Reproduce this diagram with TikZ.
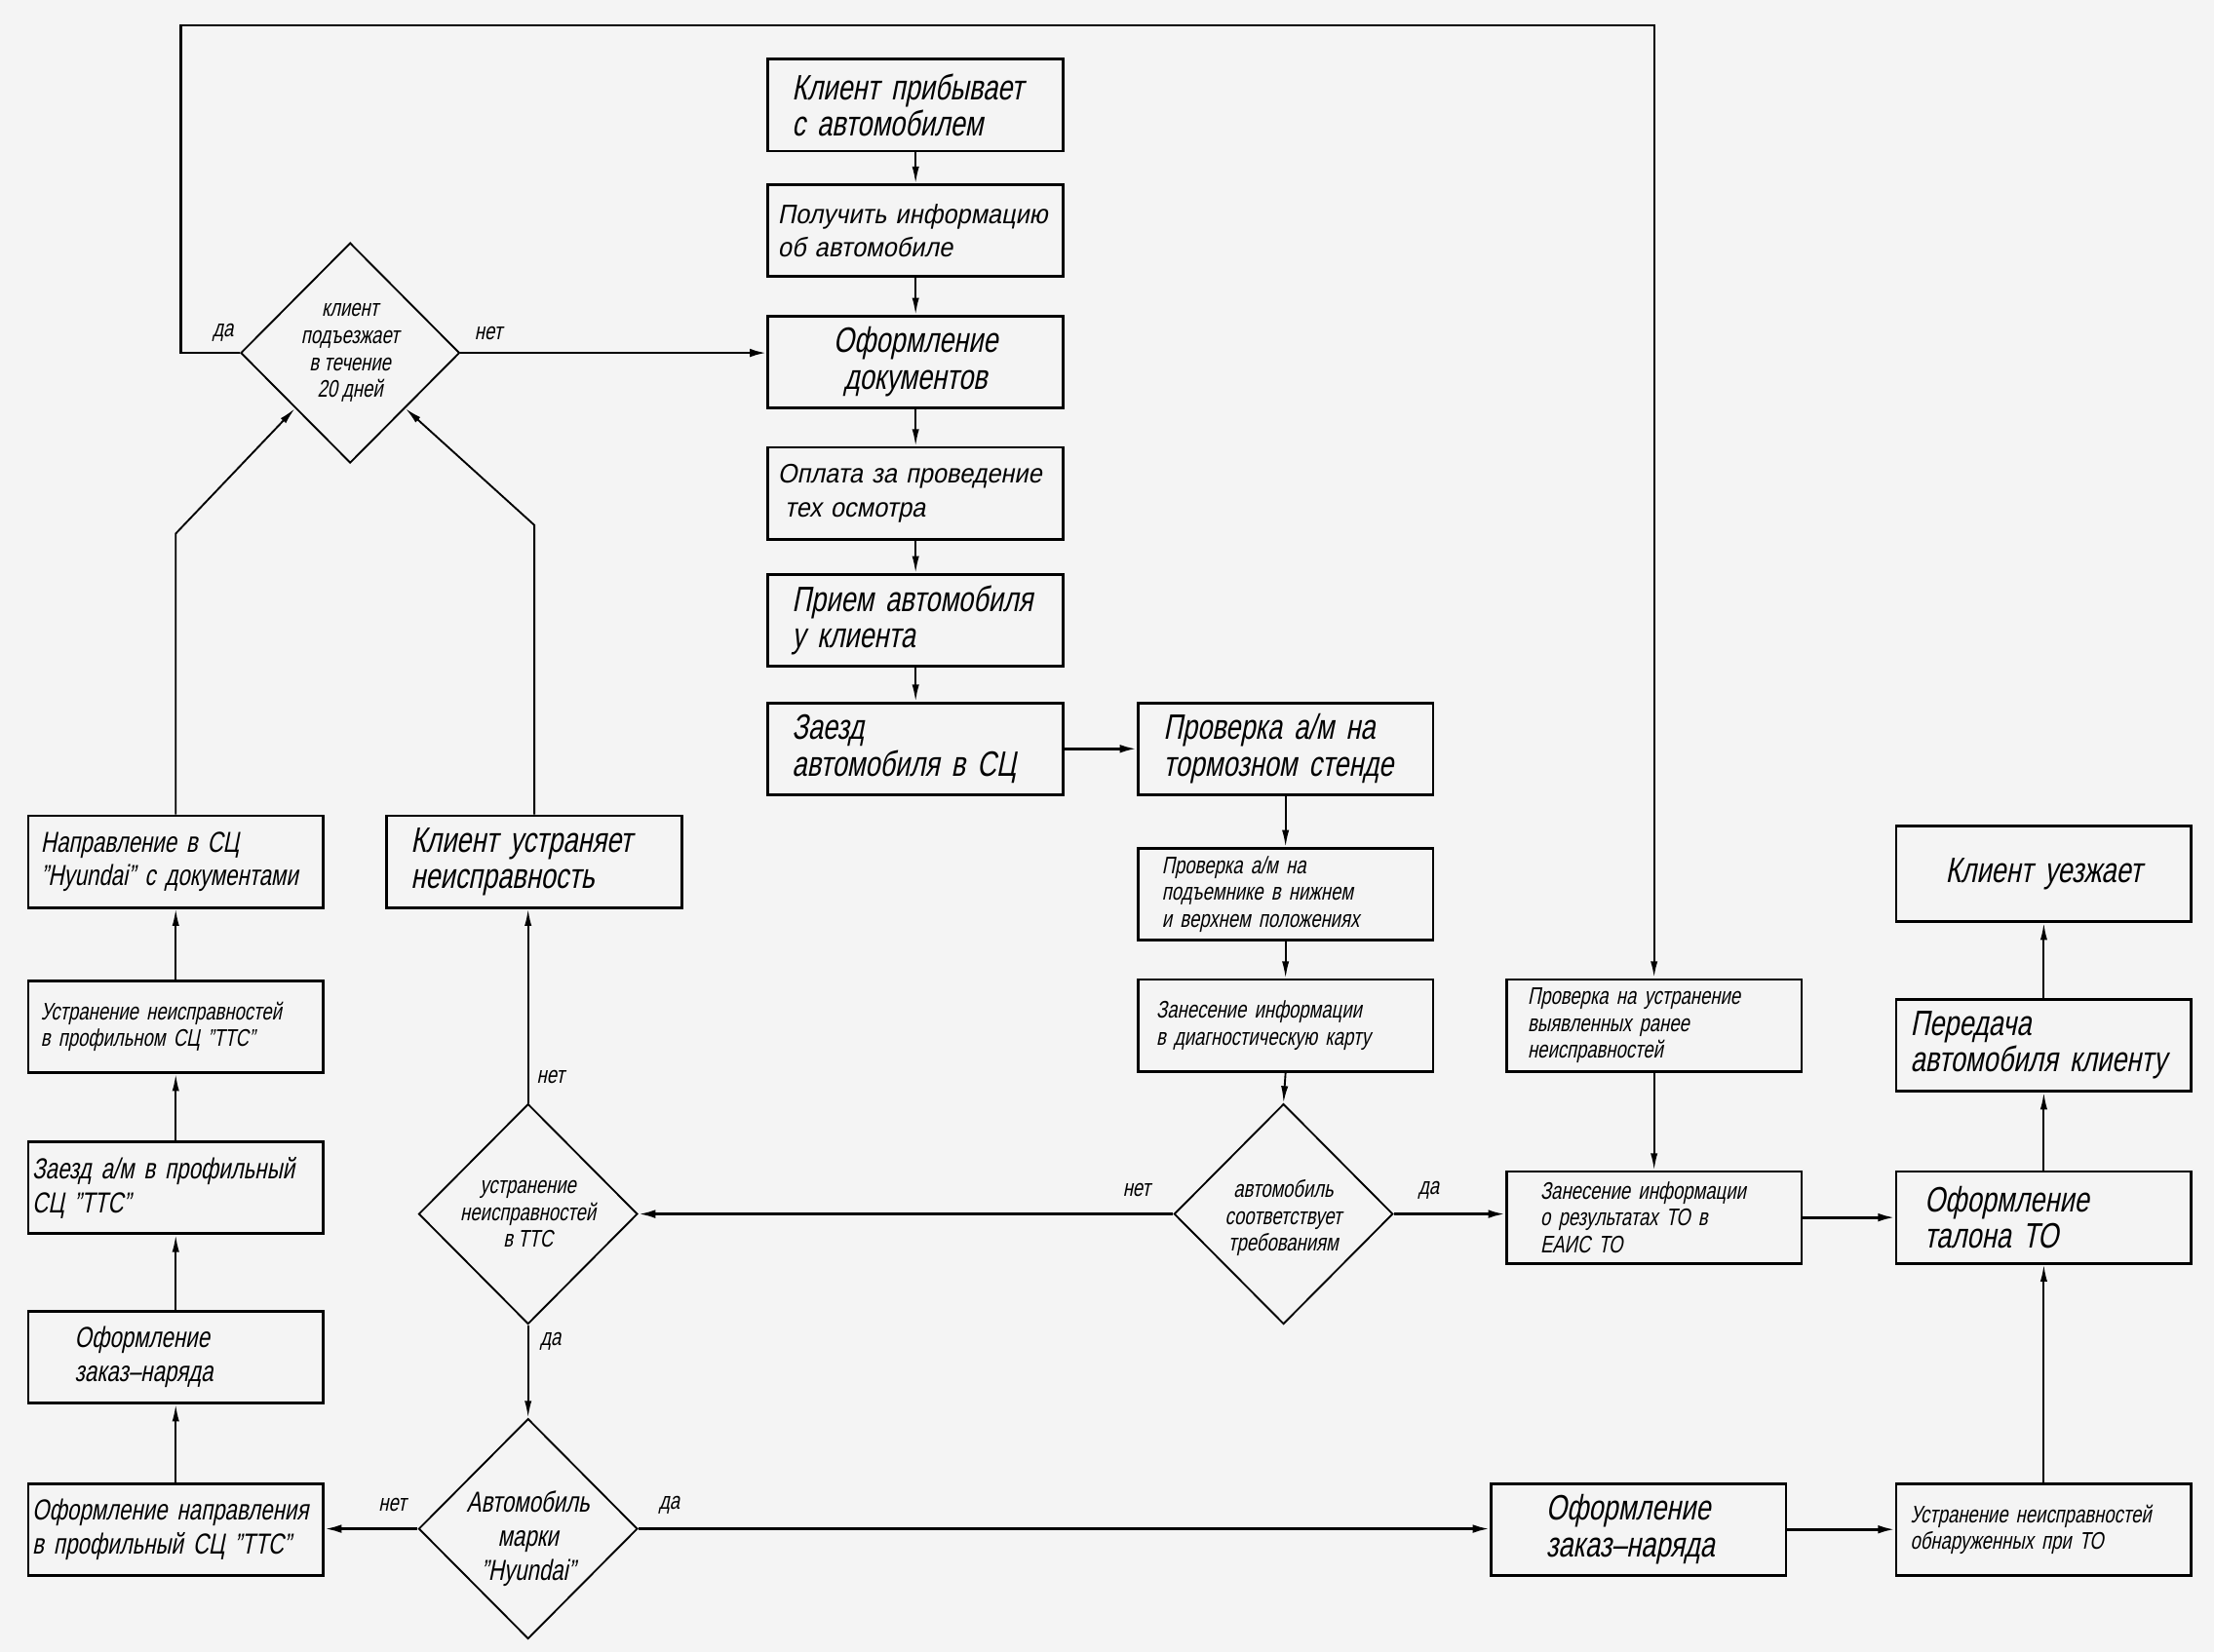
\documentclass[tikz,border=0pt]{standalone}
\usepackage{fontspec}
\setmainfont{Liberation Sans}[FakeSlant=0.2,FakeStretch=0.75]
\newfontfamily\wideg{Liberation Sans}[FakeSlant=0.2,FakeStretch=0.92]
\usetikzlibrary{shapes.geometric,arrows.meta,calc}
\definecolor{bgc}{HTML}{F4F4F4}
\newcommand\ML[1]{\mbox{#1}}
\newcommand\FBig{\fontsize{25}{26}\selectfont}
\newcommand\FMid{\fontsize{20.5}{24}\selectfont}
\newcommand\FSm{\fontsize{17}{19}\selectfont}
\newcommand\FWide{\wideg\fontsize{19}{24}\selectfont}
\begin{document}
\begin{tikzpicture}[x=1pt,y=-1pt,
  box/.style={draw, line width=1.9pt, rectangle, minimum width=209pt, minimum height=65pt,
    inner ysep=0pt, anchor=north west, align=left},
  dia/.style={draw, diamond, aspect=1, line width=1.3pt, minimum width=155pt,
    minimum height=156pt, inner sep=0pt},
  arr/.style={line width=1.3pt, -{Latex[length=12pt,width=5pt]}},
  arrT/.style={line width=1.9pt, -{Latex[length=12pt,width=6pt]}},
  lbl/.style={font=\FSm, inner sep=0pt},
  dtext/.style={align=center, inner sep=0pt}]
\fill[bgc] (0,0) rectangle (1568,1170);
% central column
\node[box, inner xsep=17pt, text width=175pt, font=\FBig] (b1) at (543,41) {\ML{Клиент прибывает}\\\ML{с автомобилем}};
\node[box, inner xsep=7pt, text width=195pt, font=\FWide] (b2) at (543,130) {\ML{Получить информацию}\\\ML{об автомобиле}};
\node[box, inner xsep=5pt, text width=199pt, align=center, font=\FBig] (b3) at (543,223) {Оформление\\документов};
\node[box, inner xsep=7pt, text width=195pt, font=\FWide] (b4) at (543,316) {\ML{Оплата за проведение}\\\ML{\hspace*{5pt}тех осмотра}};
\node[box, inner xsep=17pt, text width=175pt, font=\FBig] (b5) at (543,406) {\ML{Прием автомобиля}\\\ML{у клиента}};
\node[box, inner xsep=17pt, text width=175pt, font=\FBig] (b6) at (543,497) {\ML{Заезд}\\\ML{автомобиля в СЦ}};
\node[box, inner xsep=18pt, text width=173pt, font=\FBig] (b7) at (805,497) {\ML{Проверка а/м на}\\\ML{тормозном стенде}};
\node[box, inner xsep=17pt, text width=175pt, font=\FSm] (b8) at (805,600) {\ML{Проверка а/м на}\\\ML{подъемнике в нижнем}\\\ML{и верхнем положениях}};
\node[box, inner xsep=13pt, text width=183pt, font=\FSm] (b9) at (805,693) {\ML{Занесение информации}\\\ML{в диагностическую карту}};
\node[box, inner xsep=15pt, text width=179pt, font=\FSm] (b11) at (1066,693) {\ML{Проверка на устранение}\\\ML{выявленных ранее}\\\ML{неисправностей}};
\node[box, inner xsep=24pt, text width=161pt, font=\FSm] (b12) at (1066,829) {\ML{Занесение информации}\\\ML{о результатах ТО в}\\\ML{ЕАИС ТО}};
\node[box, inner xsep=20pt, text width=169pt, font=\FBig] (b13) at (1342,829) {\ML{Оформление}\\\ML{талона ТО}};
\node[box, inner xsep=10pt, text width=189pt, font=\FBig] (b14) at (1342,707) {\ML{Передача}\\\ML{автомобиля клиенту}};
\node[box, inner xsep=5pt, text width=199pt, align=center, font=\FBig, minimum height=68pt] (b15) at (1342,584) {Клиент уезжает};
\node[box, inner xsep=10pt, text width=189pt, font=\FSm] (b16) at (1342,1050) {\ML{Устранение неисправностей}\\\ML{обнаруженных при ТО}};
\node[box, inner xsep=39pt, text width=131pt, font=\FBig] (b17) at (1055,1050) {\ML{Оформление}\\\ML{заказ–наряда}};
% left column
\node[box, inner xsep=3pt, text width=203pt, font=\FMid] (b19) at (19,1050) {\ML{Оформление направления}\\\ML{в профильный СЦ "ТТС"}};
\node[box, inner xsep=33pt, text width=143pt, font=\FMid] (b20) at (19,928) {\ML{Оформление}\\\ML{заказ–наряда}};
\node[box, inner xsep=3pt, text width=203pt, font=\FMid] (b21) at (19,808) {\ML{Заезд а/м в профильный}\\\ML{СЦ "ТТС"}};
\node[box, inner xsep=9pt, text width=191pt, font=\FSm] (b22) at (19,694) {\ML{Устранение неисправностей}\\\ML{в профильном СЦ "ТТС"}};
\node[box, inner xsep=9pt, text width=191pt, font=\FMid] (b23) at (19,577) {\ML{Направление в СЦ}\\\ML{"Hyundai" с документами}};
\node[box, inner xsep=17pt, text width=175pt, font=\FBig] (b24) at (273,577) {\ML{Клиент устраняет}\\\ML{неисправность}};
% diamonds
\node[dia] (d26) at (248,250) {};
\node[dtext, font=\FSm] (d26t) at (d26.center) {клиент\\подъезжает\\в течение\\20 дней};
\node[dia] (d25) at (374,860) {};
\node[dtext, font=\FSm] (d25t) at (d25.center) {устранение\\неисправностей\\в ТТС};
\node[dia] (d10) at (909,860) {};
\node[dtext, font=\FSm] (d10t) at ([yshift=-3pt]d10.center) {автомобиль\\соответствует\\требованиям};
\node[dia] (d18) at (374,1083) {};
\node[dtext, font=\FMid] (d18t) at ([yshift=-7pt]d18.center) {Автомобиль\\марки\\"Hyundai"};
% labels
\node[lbl] (l1) at (158,236) {да};
\node[lbl] (l2) at (346,236) {нет};
\node[lbl] (l3) at (805,843) {нет};
\node[lbl] (l4) at (1012,843) {да};
\node[lbl] (l5) at (390,763) {нет};
\node[lbl] (l6) at (390,950) {да};
\node[lbl] (l7) at (278,1066) {нет};
\node[lbl] (l8) at (474,1066) {да};
% connectors
\draw[arr] (b1.south) -- (b2.north);
\draw[arr] (b2.south) -- (b3.north);
\draw[arr] (b3.south) -- (b4.north);
\draw[arr] (b4.south) -- (b5.north);
\draw[arr] (b5.south) -- (b6.north);
\draw[arrT] (b6.east) -- (b7.west);
\draw[arr] (b7.south) -- (b8.north);
\draw[arr] (b8.south) -- (b9.north);
\draw[arr] (b9.south) -- (d10.north);
\draw[arrT] (d10.west) -- (d25.east);
\draw[arrT] (d10.east) -- (d10.east -| b12.west);
\draw[arr] (b11.south) -- (b12.north);
\draw[arrT] (b12.east) -- (b13.west);
\draw[arr] (b16.north) -- (b13.south);
\draw[arr] (b13.north) -- (b14.south);
\draw[arr] (b14.north) -- (b15.south);
\draw[arrT] (b17.east) -- (b16.west);
\draw[arr] (d25.north) -- (d25.north |- b24.south);
\draw[arr] (d25.south) -- (d18.north);
\draw[arrT] (d18.west) -- (d18.west -| b19.east);
\draw[arrT] (d18.east) -- (d18.east -| b17.west);
\draw[arr] (b19.north) -- (b20.south);
\draw[arr] (b20.north) -- (b21.south);
\draw[arr] (b21.north) -- (b22.south);
\draw[arr] (b22.north) -- (b23.south);
\draw[arr] (b23.north) -- ++(0,-199) -- ($(d26.west)!0.5!(d26.south)$);
\draw[arr] (b24.north) -- ++(0,-205) -- ($(d26.east)!0.5!(d26.south)$);
\draw[arrT] (d26.east) -- (d26.east -| b3.west);
\coordinate (tl) at (128,18);
\draw[arr, line width=1.6pt] (d26.west) -| (tl) -| (b11.north);
\end{tikzpicture}
\end{document}
